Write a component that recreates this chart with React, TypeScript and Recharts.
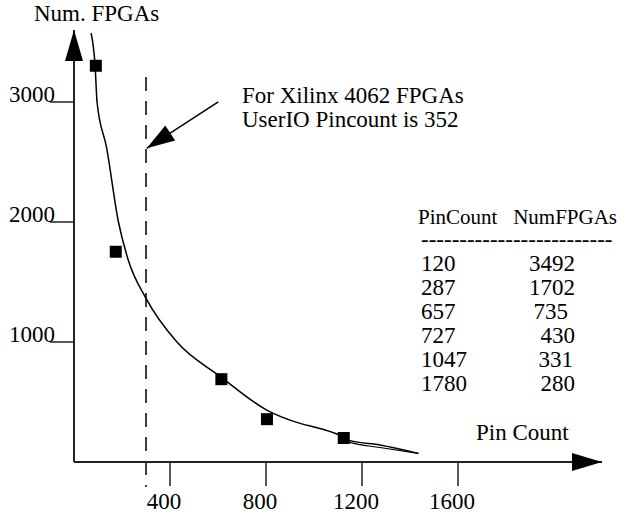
import React from 'react';
import {
  ComposedChart, Line, Scatter, XAxis, YAxis, ReferenceLine, ReferenceDot
} from 'recharts';

// measured points (squares as drawn in the figure)
const markerPins = [91, 174, 614, 804, 1124];
const markerFpgas = [3302, 1752, 690, 357, 200];

// hand-drawn fit curve
const curvePins = [71, 88, 96, 136, 185, 226, 300, 428, 613, 803, 942, 1025, 1124, 1150, 1275, 1435];
const curveFpgas = [3575, 3300, 3000, 2617, 2002, 1683, 1364, 1002, 708, 433, 322, 279, 208, 178, 142, 72];

// second stroke near the tail of the curve
const tailPins = [1124, 1150, 1275, 1435];
const tailFpgas = [196, 163, 121, 72];

// table printed beside the curve
const pinCounts = ['120', '287', '657', '727', '1047', '1780'];
const numFpgas = ['3492', '1702', '735', '430', '331', '280'];
const valueShift = [0, 0, -7, 0, -2, 0];

const xTicks = [400, 800, 1200, 1600];
const yTicks = [1000, 2000, 3000];

const xilinxPin = 300;
const arrowTail = { x: 601, y: 3002 };
const arrowTip = { x: 303, y: 2614 };

const markerData = markerPins.map((x, i) => ({ x, y: markerFpgas[i] }));
const curveData = curvePins.map((x, i) => ({ x, y: curveFpgas[i] }));
const tailData = tailPins.map((x, i) => ({ x, y: tailFpgas[i] }));

const FONT = '"Times New Roman", Times, Tinos, "Liberation Serif", "Nimbus Roman", "DejaVu Serif", "Noto Serif", serif';
const INK = '#222';

const XTick = ({ x, y, payload }: any) => (
  <text x={x - 6} y={y} dy={23} textAnchor="middle" style={{ fontFamily: FONT, fontSize: 23 }} fill="#000">
    {payload.value}
  </text>
);

const YTick = ({ x, y, payload }: any) => (
  <text x={x + 5} y={y} textAnchor="end" style={{ fontFamily: FONT, fontSize: 23 }} fill="#000">
    {payload.value}
  </text>
);

const Txt = ({ x, y, anchor, size, children }: any) => (
  <text x={x} y={y} textAnchor={anchor || 'start'} style={{ fontFamily: FONT, fontSize: size || 23 }} fill="#000">
    {children}
  </text>
);

const arrowHead = (angle: number, len: number, hw: number) => (props: any) => {
  const { cx, cy } = props;
  return (
    <polygon
      points={`0,0 ${-len},${-hw} ${-len},${hw}`}
      transform={`translate(${cx},${cy}) rotate(${angle})`}
      fill="#000"
    />
  );
};

const Square = (props: any) => {
  const { cx, cy } = props;
  return <rect x={cx - 6} y={cy - 6} width={12} height={12} fill="#000" />;
};

export default function App() {
  return (
    <div style={{ position: 'absolute', left: 0, top: 0, width: 641, height: 516, background: '#fff' }}>
      <ComposedChart width={641} height={516} margin={{ top: 30, right: 39, bottom: 53, left: 73 }}>
        <XAxis
          type="number" dataKey="x" domain={[0, 2200]} ticks={xTicks} height={1}
          tickSize={24} tickMargin={0} tick={<XTick />}
          axisLine={{ stroke: INK, strokeWidth: 2 }} tickLine={{ stroke: INK, strokeWidth: 1.5 }}
        />
        <YAxis
          type="number" dataKey="y" domain={[0, 3600]} ticks={yTicks} width={1}
          tickSize={24} tickMargin={0} tick={<YTick />}
          axisLine={{ stroke: INK, strokeWidth: 2 }} tickLine={{ stroke: INK, strokeWidth: 1.5 }}
        />
        <ReferenceLine
          segment={[{ x: xilinxPin, y: 3208 }, { x: xilinxPin, y: -208 }]}
          ifOverflow="visible" stroke="#000" strokeWidth={1.5} strokeDasharray="14 10"
        />
        <ReferenceLine
          segment={[arrowTail, arrowTip]} ifOverflow="visible" stroke="#000" strokeWidth={1.5}
        />
        <Line data={curveData} dataKey="y" type="monotone" stroke="#000" strokeWidth={1.5}
          dot={false} activeDot={false} isAnimationActive={false} />
        <Line data={tailData} dataKey="y" type="monotone" stroke="#000" strokeWidth={1.2}
          dot={false} activeDot={false} isAnimationActive={false} />
        <Scatter data={markerData} dataKey="y" shape={<Square />} isAnimationActive={false} />
        <ReferenceDot x={2200} y={0} ifOverflow="visible" shape={arrowHead(0, 30, 9)} />
        <ReferenceDot x={0} y={3600} ifOverflow="visible" shape={arrowHead(-90, 31, 9)} />
        <ReferenceDot x={arrowTip.x} y={arrowTip.y} ifOverflow="visible" shape={arrowHead(147, 28, 9)} />
      </ComposedChart>

      {/* labels and table */}
      <svg width={641} height={516} style={{ position: 'absolute', left: 0, top: 0, pointerEvents: 'none' }}>
        <Txt x={34} y={21}>Num. FPGAs</Txt>
        <Txt x={476} y={440}>Pin Count</Txt>
        <Txt x={242} y={103}>For Xilinx 4062 FPGAs</Txt>
        <Txt x={242} y={127}>UserIO Pincount is 352</Txt>
        <Txt x={418} y={224} size={21}>PinCount</Txt>
        <Txt x={617} y={224} anchor="end" size={21}>NumFPGAs</Txt>
        <Txt x={421} y={247}>-------------------------</Txt>
        {pinCounts.map((p, i) => (
          <Txt key={p} x={421} y={271 + i * 23.9}>{p}</Txt>
        ))}
        {numFpgas.map((n, i) => (
          <Txt key={n} x={575 + valueShift[i]} y={271 + i * 23.9} anchor="end">{n}</Txt>
        ))}
      </svg>
    </div>
  );
}
